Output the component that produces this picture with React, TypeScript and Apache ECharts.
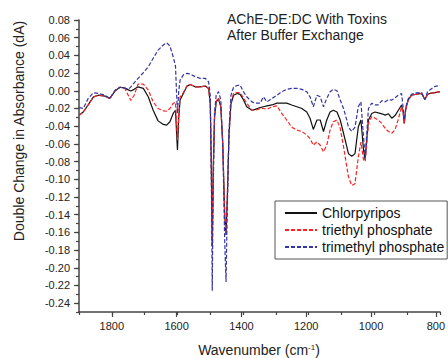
import React, { useEffect, useRef } from "react";
import * as echarts from "echarts";

const wavenumbers = [
  1900, 1887, 1872, 1856, 1841, 1821, 1806, 1790, 1775, 1760,
  1750, 1742, 1732, 1720, 1704, 1689, 1674, 1659, 1643, 1633,
  1623, 1613, 1606, 1603, 1600, 1596, 1592, 1582, 1571, 1561,
  1546, 1531, 1515, 1505, 1500, 1497, 1494, 1491, 1487, 1482,
  1475, 1468, 1462, 1456, 1452, 1448, 1443, 1437, 1429, 1418,
  1409, 1399, 1389, 1373, 1363, 1348, 1338, 1327, 1312, 1297,
  1282, 1267, 1252, 1236, 1221, 1206, 1196, 1186, 1175, 1165,
  1155, 1145, 1135, 1125, 1114, 1104, 1094, 1084, 1079, 1069,
  1059, 1049, 1041, 1033, 1028, 1018, 1008, 998, 988, 977,
  967, 957, 947, 937, 927, 917, 912, 909, 904, 897,
  887, 871, 856, 846, 838, 831, 815, 800,
];

const chlorpyripos = [
  -0.0275, -0.024, -0.016, -0.0068, -0.005, -0.006, -0.0086, 0.0, 0.004, 0.003,
  0.001, -0.0003, 0.0016, 0.0045, 0.0027, -0.0068, -0.022, -0.034, -0.038, -0.0388,
  -0.035, -0.0256, -0.022, -0.045, -0.067, -0.03, -0.0105, -0.003, 0.0053, 0.0072,
  0.0045, 0.0045, 0.0053, 0.0027, -0.015, -0.08, -0.175, -0.09, -0.03, -0.013,
  -0.009, -0.018, -0.06, -0.14, -0.163, -0.12, -0.05, -0.015, -0.005, -0.003,
  -0.004, -0.01, -0.018, -0.022, -0.021, -0.019, -0.018, -0.017, -0.016, -0.014,
  -0.014, -0.014, -0.016, -0.018, -0.02, -0.024, -0.031, -0.0437, -0.033, -0.033,
  -0.046, -0.033, -0.024, -0.022, -0.024, -0.033, -0.048, -0.063, -0.071, -0.074,
  -0.071, -0.041, -0.033, -0.067, -0.078, -0.033, -0.0256, -0.024, -0.025, -0.026,
  -0.0275, -0.026, -0.031, -0.028, -0.022, -0.016, -0.025, -0.037, -0.02, -0.0105,
  -0.005, -0.0037, -0.003, -0.0098, -0.004, -0.003, -0.002, -0.001,
];

const triethylPhosphate = [
  -0.028, -0.024, -0.016, -0.007, -0.005, -0.006, -0.0086, 0.0, 0.004, 0.0025,
  -0.005, -0.011, -0.005, 0.0076, 0.0076, 0.0008, -0.0125, -0.02, -0.0226, -0.023,
  -0.02, -0.0143, -0.013, -0.035, -0.056, -0.025, -0.007, -0.002, 0.0053, 0.0072,
  0.0045, 0.0045, 0.0053, 0.0027, -0.015, -0.08, -0.17, -0.09, -0.03, -0.012,
  -0.008, -0.017, -0.06, -0.14, -0.16, -0.12, -0.05, -0.013, -0.003, -0.002,
  -0.002, -0.008, -0.014, -0.022, -0.022, -0.02, -0.02, -0.021, -0.018, -0.017,
  -0.0256, -0.033, -0.041, -0.0445, -0.046, -0.05, -0.054, -0.0615, -0.0577, -0.0615,
  -0.069, -0.0615, -0.0445, -0.035, -0.033, -0.0425, -0.063, -0.086, -0.097, -0.107,
  -0.105, -0.075, -0.058, -0.078, -0.08, -0.037, -0.029, -0.031, -0.033, -0.037,
  -0.0425, -0.046, -0.048, -0.044, -0.032, -0.018, -0.025, -0.037, -0.02, -0.0105,
  -0.005, -0.0037, -0.003, -0.0098, -0.004, -0.003, -0.002, -0.001,
];

const trimethylPhosphate = [
  -0.019, -0.02, -0.0086, -0.0022, -0.003, -0.005, -0.0086, 0.0005, 0.004, 0.003,
  0.0016, 0.0045, 0.009, 0.014, 0.0204, 0.027, 0.0367, 0.046, 0.0517, 0.0543,
  0.0506, 0.0385, 0.028, 0.0, -0.025, 0.0, 0.012, 0.018, 0.0197, 0.019,
  0.016, 0.014, 0.014, 0.01, -0.005, -0.09, -0.226, -0.11, -0.025, -0.005,
  -0.001, -0.01, -0.06, -0.17, -0.216, -0.13, -0.045, -0.005, 0.004, 0.006,
  0.0065, -0.001, -0.0068, -0.0125, -0.014, -0.014, -0.0068, -0.0125, -0.0086, -0.005,
  -0.001, 0.0016, 0.0027, 0.0027, 0.0016, -0.001, -0.0068, -0.018, -0.005, -0.0068,
  -0.018, -0.0086, -0.001, 0.0016, 0.0, -0.0105, -0.02, -0.033, -0.041, -0.046,
  -0.041, -0.018, -0.0125, -0.052, -0.075, -0.02, -0.014, -0.016, -0.016, -0.011,
  -0.0125, -0.01, -0.0105, -0.008, -0.005, -0.003, -0.02, -0.033, -0.018, -0.0095,
  -0.004, -0.0023, -0.002, -0.0098, -0.001, 0.001, 0.005, 0.006,
];

const seriesNames = ["Chlorpyripos", "triethyl phosphate", "trimethyl phosphate"];
const seriesColors = ["#111111", "#ff2222", "#3434a4"];
const titleLines = ["AChE-DE:DC With Toxins", "After Buffer Exchange"];

const FONT = "'Liberation Sans', Arial, sans-serif";
const AXIS_COLOR = "#444";

export default function App() {
  const ref = useRef<HTMLDivElement>(null);

  useEffect(() => {
    if (!ref.current) return;
    const chart = echarts.init(ref.current, undefined, { renderer: "svg" });

    const mk = (vals: number[]) => wavenumbers.map((w, i) => [w, vals[i]]);
    const seriesData = [chlorpyripos, triethylPhosphate, trimethylPhosphate];

    const fmtY = (v: number) => (Math.abs(v) < 1e-9 ? "0.00" : v.toFixed(2));

    chart.setOption({
      animation: false,
      backgroundColor: "#ffffff",
      grid: [
        { left: 79, right: 8, top: 20, bottom: 46 },
        { left: 79, right: 8, top: 20, bottom: 54.85 },
        { left: 111.82, right: 8, top: 20, bottom: 46 },
      ],
      xAxis: [
        {
          gridIndex: 0,
          type: "value",
          min: 800,
          max: 1900,
          interval: 100,
          inverse: true,
          axisLine: { show: true, onZero: false, lineStyle: { color: AXIS_COLOR, width: 1.5 } },
          axisTick: { show: true, inside: false, length: 3, lineStyle: { color: AXIS_COLOR, width: 1.2 } },
          axisLabel: { show: false },
          splitLine: { show: false },
        },
        { gridIndex: 1, type: "value", min: 0, max: 1, show: false },
        {
          gridIndex: 2,
          type: "value",
          min: 800,
          max: 1800,
          interval: 200,
          inverse: true,
          axisLine: { show: false, onZero: false },
          axisTick: { show: true, inside: false, length: 5, lineStyle: { color: AXIS_COLOR, width: 1.2 } },
          axisLabel: {
            show: true,
            fontSize: 11,
            fontFamily: FONT,
            color: "#222",
            margin: 8,
            formatter: (v: number) => String(Math.round(v)),
          },
          splitLine: { show: false },
        },
      ],
      yAxis: [
        {
          gridIndex: 0,
          type: "value",
          min: -0.25,
          max: 0.08,
          interval: 0.01,
          axisLine: { show: true, onZero: false, lineStyle: { color: AXIS_COLOR, width: 1.5 } },
          axisTick: { show: true, inside: false, length: 3, lineStyle: { color: AXIS_COLOR, width: 1.2 } },
          axisLabel: { show: false },
          splitLine: { show: false },
        },
        {
          gridIndex: 1,
          type: "value",
          min: -0.24,
          max: 0.08,
          interval: 0.02,
          axisLine: { show: false, onZero: false },
          axisTick: { show: true, inside: false, length: 5, lineStyle: { color: AXIS_COLOR, width: 1.2 } },
          axisLabel: { show: true, fontSize: 11, fontFamily: FONT, color: "#222", margin: 9, formatter: fmtY },
          splitLine: { show: false },
        },
        { gridIndex: 2, type: "value", min: 0, max: 1, show: false },
      ],
      legend: {
        left: 275,
        top: 201,
        orient: "vertical",
        itemWidth: 32,
        itemHeight: 14,
        itemGap: 3,
        padding: [5, 3, 5, 9],
        borderColor: "#555",
        borderWidth: 1,
        backgroundColor: "#fff",
        itemStyle: { opacity: 0, borderWidth: 0 },
        textStyle: { fontSize: 14, fontFamily: FONT, color: "#111" },
        data: seriesNames,
      },
      graphic: [
        {
          type: "text",
          x: 227,
          y: 18.5,
          style: { text: titleLines[0], fontSize: 14, fontFamily: FONT, fill: "#222", align: "left", verticalAlign: "middle" },
        },
        {
          type: "text",
          x: 227,
          y: 34.5,
          style: { text: titleLines[1], fontSize: 14, fontFamily: FONT, fill: "#222", align: "left", verticalAlign: "middle" },
        },
        {
          type: "text",
          x: 19,
          y: 131,
          rotation: Math.PI / 2,
          style: {
            text: "Double Change in Absorbance (dA)",
            fontSize: 14,
            fontFamily: FONT,
            fill: "#222",
            align: "center",
            verticalAlign: "middle",
          },
        },
        {
          type: "text",
          x: 259,
          y: 350,
          style: {
            text: "Wavenumber (cm{sup|-1})",
            fontSize: 14,
            fontFamily: FONT,
            fill: "#222",
            align: "center",
            verticalAlign: "middle",
            rich: {
              sup: { fontSize: 8, fontFamily: FONT, fill: "#222", verticalAlign: "top", padding: [0, 0, 6, 0] },
            },
          },
        },
      ],
      series: seriesNames.map((name, i) => ({
        name,
        type: "line",
        xAxisIndex: 0,
        yAxisIndex: 0,
        data: mk(seriesData[i]),
        symbol: "none",
        showSymbol: false,
        itemStyle: { color: seriesColors[i] },
        lineStyle: {
          color: seriesColors[i],
          width: 1.2,
          type: i === 0 ? "solid" : [4, 2],
        },
        z: 2 + i,
      })),
    });

    return () => chart.dispose();
  }, []);

  return (
    <div
      ref={ref}
      style={{ position: "fixed", left: 0, top: 0, width: 448, height: 358 }}
    />
  );
}
